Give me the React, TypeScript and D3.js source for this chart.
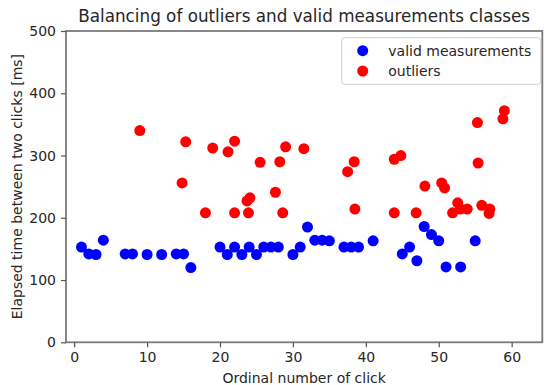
import { useEffect, useRef } from "react";
import * as d3 from "d3";

const validX = [1, 2, 3, 4, 7, 8, 10, 12, 14, 15, 16, 20, 21, 22, 23, 24, 25, 26, 27, 28, 30, 31, 32, 33, 34, 35, 37, 38, 39, 41, 45, 46, 47, 48, 49, 50, 51, 53, 55];
const validY = [153, 142, 141, 164, 142, 142, 141, 141, 142, 142, 120, 153, 141, 153, 141, 153, 141, 153, 153, 153, 141, 153, 185, 164, 164, 163, 153, 153, 153, 163, 142, 153, 131, 186, 173, 163, 121, 121, 163];

const outlierX = [9, 14.8, 15.3, 18, 19, 21.1, 22, 22, 23.9, 23.7, 24.1, 25.5, 27.6, 28.2, 28.6, 29, 31.5, 37.5, 38.4, 38.5, 43.9, 44.8, 43.9, 46.9, 48.1, 50.4, 50.8, 51.9, 52.6, 53, 53.9, 55.3, 55.4, 55.9, 57, 56.9, 58.8, 59];
const outlierY = [340, 256, 322, 208, 312, 306, 323, 208, 208, 227, 232, 289, 241, 290, 208, 314, 311, 274, 290, 214, 294, 300, 208, 208, 251, 256, 248, 208, 224, 214, 214, 353, 288, 220, 214, 207, 359, 372];

const xTicks = [0, 10, 20, 30, 40, 50, 60];
const yTicks = [0, 100, 200, 300, 400, 500];

const seriesNames = ["valid measurements", "outliers"];
const seriesColors = ["#0000ff", "#ff0000"];

const W = 547;
const H = 385;
const font = "DejaVu Sans, sans-serif";
const textColor = "#262626";

export default function App() {
  const svgRef = useRef<SVGSVGElement>(null);

  useEffect(() => {
    document.body.style.margin = "0";
    if (!svgRef.current) return;
    const svg = d3.select(svgRef.current);
    svg.selectAll("*").remove();

    const left = 66;
    const right = 542.3;
    const top = 31;
    const bottom = 342.3;

    const x = d3.scaleLinear().domain([-1.12, 64.2]).range([left, right]);
    const y = d3.scaleLinear().domain([0, 500]).range([bottom, top]);

    const r = 5.5;

    // points
    const valid = d3.zip(validX, validY);
    const outliers = d3.zip(outlierX, outlierY);
    svg
      .append("g")
      .selectAll("circle")
      .data(valid)
      .join("circle")
      .attr("cx", (d) => x(d[0]))
      .attr("cy", (d) => y(d[1]))
      .attr("r", r)
      .attr("fill", seriesColors[0]);
    svg
      .append("g")
      .selectAll("circle")
      .data(outliers)
      .join("circle")
      .attr("cx", (d) => x(d[0]))
      .attr("cy", (d) => y(d[1]))
      .attr("r", r)
      .attr("fill", seriesColors[1]);

    // frame
    svg
      .append("rect")
      .attr("x", left)
      .attr("y", top)
      .attr("width", right - left)
      .attr("height", bottom - top)
      .attr("fill", "none")
      .attr("stroke", "#7a7a7a")
      .attr("stroke-width", 1.8);

    // axes
    const xAxis = svg
      .append("g")
      .attr("transform", `translate(0,${bottom})`)
      .call(d3.axisBottom(x).tickValues(xTicks).tickSize(5).tickPadding(5));
    const yAxis = svg
      .append("g")
      .attr("transform", `translate(${left},0)`)
      .call(d3.axisLeft(y).tickValues(yTicks).tickSize(5).tickPadding(5));
    [xAxis, yAxis].forEach((g) => {
      g.select(".domain").remove();
      g.selectAll("line").attr("stroke", "#555").attr("stroke-width", 1.2);
      g.selectAll("text")
        .attr("fill", textColor)
        .attr("font-size", 14)
        .attr("font-family", font);
    });

    // labels
    svg
      .append("text")
      .attr("x", (left + right) / 2)
      .attr("y", 22)
      .attr("text-anchor", "middle")
      .attr("fill", textColor)
      .attr("font-size", 16.8)
      .attr("font-family", font)
      .text("Balancing of outliers and valid measurements classes");

    svg
      .append("text")
      .attr("x", (left + right) / 2)
      .attr("y", 383)
      .attr("text-anchor", "middle")
      .attr("fill", textColor)
      .attr("font-size", 14)
      .attr("font-family", font)
      .text("Ordinal number of click");

    svg
      .append("text")
      .attr("transform", `translate(22,${(top + bottom) / 2}) rotate(-90)`)
      .attr("text-anchor", "middle")
      .attr("fill", textColor)
      .attr("font-size", 14)
      .attr("font-family", font)
      .text("Elapsed time between two clicks [ms]");

    // legend
    const lg = svg.append("g").attr("transform", "translate(341.7,37.7)");
    lg.append("rect")
      .attr("width", 199)
      .attr("height", 46.6)
      .attr("rx", 3)
      .attr("fill", "white")
      .attr("fill-opacity", 0.8)
      .attr("stroke", "#d0d0d0");
    seriesNames.forEach((name, i) => {
      lg.append("circle")
        .attr("cx", 21)
        .attr("cy", 13 + i * 20.3)
        .attr("r", r)
        .attr("fill", seriesColors[i]);
      lg.append("text")
        .attr("x", 46.6)
        .attr("y", 13 + i * 20.3)
        .attr("dy", "0.35em")
        .attr("fill", textColor)
        .attr("font-size", 14)
        .attr("font-family", font)
        .text(name);
    });
  }, []);

  return <svg ref={svgRef} width={W} height={H} style={{ display: "block", background: "white" }} />;
}
